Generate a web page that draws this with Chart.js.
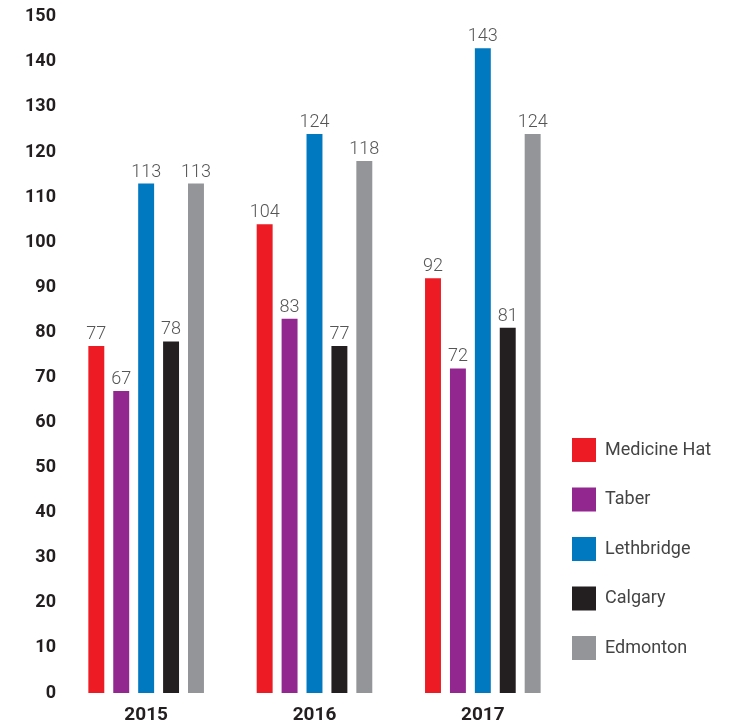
<!DOCTYPE html>
<html>
<head>
<meta charset="utf-8">
<script src="https://cdn.jsdelivr.net/npm/chart.js@4.4.1/dist/chart.umd.min.js"></script>
<style>
  html, body { margin: 0; padding: 0; background: #fff; }
  #wrap { width: 740px; height: 721px; position: relative; }
</style>
</head>
<body>
<div id="wrap"><canvas id="chart"></canvas></div>
<script>
const years = ["2015", "2016", "2017"];
const cities = ["Medicine Hat", "Taber", "Lethbridge", "Calgary", "Edmonton"];
const medicineHat = [77, 104, 92];
const taber = [67, 83, 72];
const lethbridge = [113, 124, 143];
const calgary = [78, 77, 81];
const edmonton = [113, 118, 124];
const yTicks = [0, 10, 20, 30, 40, 50, 60, 70, 80, 90, 100, 110, 120, 130, 140, 150];

const colors = ["#ED1C24", "#92278F", "#0079C1", "#231F20", "#939598"];
const series = [medicineHat, taber, lethbridge, calgary, edmonton];

// value printed above each bar
const valueLabels = {
  id: "valueLabels",
  afterDatasetsDraw(chart) {
    const ctx = chart.ctx;
    ctx.save();
    ctx.font = "300 18px Roboto";
    ctx.fillStyle = "#555";
    ctx.textAlign = "center";
    ctx.textBaseline = "alphabetic";
    chart.data.datasets.forEach((ds, i) => {
      chart.getDatasetMeta(i).data.forEach((bar, j) => {
        ctx.fillText(String(ds.data[j]), bar.x, bar.y - 7);
      });
    });
    ctx.restore();
  }
};

// vertical legend in the lower right corner
const sideLegend = {
  id: "sideLegend",
  afterDraw(chart) {
    const ctx = chart.ctx;
    const area = chart.chartArea;
    const x = area.right + 5;
    const step = 49.5;
    const top = area.bottom - 33 - 24 - step * (chart.data.datasets.length - 1);
    ctx.save();
    ctx.font = "18px Roboto";
    ctx.textBaseline = "middle";
    chart.data.datasets.forEach((ds, i) => {
      const y = top + i * step;
      ctx.fillStyle = ds.backgroundColor;
      ctx.fillRect(x, y, 24, 24);
      ctx.fillStyle = "#444";
      ctx.fillText(ds.label, x + 33, y + 12);
    });
    ctx.restore();
  }
};

new Chart(document.getElementById("chart"), {
  type: "bar",
  plugins: [valueLabels, sideLegend],
  data: {
    labels: years,
    datasets: cities.map((name, i) => ({
      label: name,
      data: series[i],
      backgroundColor: colors[i],
      categoryPercentage: 0.74,
      barPercentage: 0.64
    }))
  },
  options: {
    responsive: true,
    maintainAspectRatio: false,
    animation: false,
    layout: { padding: { left: 19, right: 173, top: 14, bottom: 0 } },
    plugins: {
      legend: { display: false },
      tooltip: { enabled: false }
    },
    scales: {
      x: {
        // keep the year row tight under the bars
        afterFit(axis) {
          axis.height = 28;
        },
        grid: { display: false, drawTicks: false },
        border: { display: false },
        ticks: {
          color: "#231F20",
          font: { family: "Roboto", size: 19, weight: "bold" },
          padding: 11
        }
      },
      y: {
        min: 0,
        max: 150,
        afterBuildTicks(axis) {
          axis.ticks = yTicks.map(v => ({ value: v }));
        },
        grid: { display: false, drawTicks: false },
        border: { display: false },
        ticks: {
          color: "#231F20",
          font: { family: "Roboto", size: 18, weight: "bold" },
          padding: 6
        }
      }
    }
  }
});
</script>
</body>
</html>
